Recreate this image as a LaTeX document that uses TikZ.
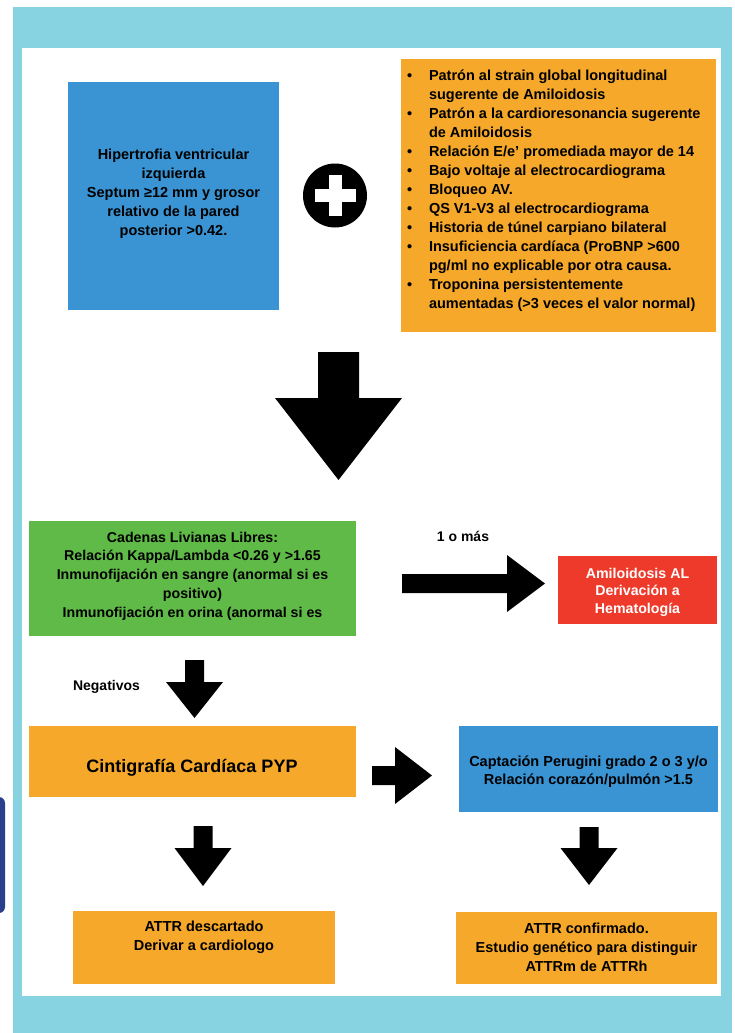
\documentclass[tikz,border=0pt]{standalone}
\usepackage{fontspec}
\setmainfont{Liberation Sans}
\usetikzlibrary{calc}
\definecolor{framecyan}{HTML}{88D3E1}
\definecolor{bblue}{HTML}{3A94D3}
\definecolor{borange}{HTML}{F5A829}
\definecolor{bgreen}{HTML}{60BA47}
\definecolor{bred}{HTML}{EE3A2B}
\definecolor{navyedge}{HTML}{2B3E8E}
% block arrows: start, tip, shaft half width, head half width, head length
\newcommand\blkdown[5]{\fill[black] ($(#1)+(-#3,0)$) -- ($(#1)+(#3,0)$) -- ($(#2)+(#3,-#5)$) -- ($(#2)+(#4,-#5)$) -- (#2) -- ($(#2)+(-#4,-#5)$) -- ($(#2)+(-#3,-#5)$) -- cycle;}
\newcommand\blkright[5]{\fill[black] ($(#1)+(0,-#3)$) -- ($(#2)+(-#5,-#3)$) -- ($(#2)+(-#5,-#4)$) -- (#2) -- ($(#2)+(-#5,#4)$) -- ($(#2)+(-#5,#3)$) -- ($(#1)+(0,#3)$) -- cycle;}
\tikzset{
  box/.style={rectangle, inner sep=0pt, outer sep=0pt},
  txt/.style={inner sep=0pt, outer sep=0pt, align=center, font=\fontsize{14.5}{19}\selectfont\bfseries},
  lbl/.style={inner sep=0pt, outer sep=0pt, font=\fontsize{14}{17}\selectfont\bfseries},
}
\begin{document}
\begin{tikzpicture}[x=1pt,y=-1pt]
\useasboundingbox (0,0) rectangle (734,1033);
\fill[white] (0,0) rectangle (734,1033);
\fill[framecyan] (13,7) rectangle (732,1033);
\fill[white] (22,48) rectangle (721,996);
\fill[navyedge, rounded corners=6pt] (-30,797) rectangle (5,913);

% boxes
\node[box, fill=bblue, minimum width=211pt, minimum height=228pt] (hvi) at (173.5,196) {};
\node[box, fill=borange, minimum width=315pt, minimum height=273pt] (crit) at (558.5,195.5) {};
\node[box, fill=bgreen, minimum width=327pt, minimum height=115pt] (cll) at (192.5,578.5) {};
\node[box, fill=bred, minimum width=159pt, minimum height=68pt] (al) at (637.5,590) {};
\node[box, fill=borange, minimum width=327pt, minimum height=71pt] (pyp) at (192.5,761.5) {};
\node[box, fill=bblue, minimum width=259pt, minimum height=86pt] (capt) at (588.5,769) {};
\node[box, fill=borange, minimum width=262pt, minimum height=73pt] (desc) at (204,947.5) {};
\node[box, fill=borange, minimum width=261pt, minimum height=72pt] (conf) at (586.5,948) {};

% texts
\node[txt] (hviT) at (173.5,194) {Hipertrofia ventricular\\izquierda\\Septum ≥12 mm y grosor\\relativo de la pared\\posterior >0.42.};
\node[txt, align=left, anchor=west] (critT) at (407,190.5) {%
\makebox[22pt][l]{\textbullet}Patrón al strain global longitudinal\\
\hspace*{22pt}sugerente de Amiloidosis\\
\makebox[22pt][l]{\textbullet}Patrón a la cardioresonancia sugerente\\
\hspace*{22pt}de Amiloidosis\\
\makebox[22pt][l]{\textbullet}Relación E/e’ promediada mayor de 14\\
\makebox[22pt][l]{\textbullet}Bajo voltaje al electrocardiograma\\
\makebox[22pt][l]{\textbullet}Bloqueo AV.\\
\makebox[22pt][l]{\textbullet}QS V1-V3 al electrocardiograma\\
\makebox[22pt][l]{\textbullet}Historia de túnel carpiano bilateral\\
\makebox[22pt][l]{\textbullet}Insuficiencia cardíaca (ProBNP >600\\
\hspace*{22pt}pg/ml no explicable por otra causa.\\
\makebox[22pt][l]{\textbullet}Troponina persistentemente\\
\hspace*{22pt}aumentadas (>3 veces el valor normal)};
\node[txt, font=\fontsize{14.2}{18.7}\selectfont\bfseries] (cllT) at (192.5,576) {Cadenas Livianas Libres:\\Relación Kappa/Lambda <0.26 y >1.65\\Inmunofijación en sangre (anormal si es\\positivo)\\Inmunofijación en orina (anormal si es};
\node[txt, text=white, font=\fontsize{14.2}{17.5}\selectfont\bfseries] (alT) at (637.5,592) {Amiloidosis AL\\Derivación a\\Hematología};
\node[txt, font=\fontsize{18}{22}\selectfont\bfseries] (pypT) at (192,768) {Cintigrafía Cardíaca PYP};
\node[txt, font=\fontsize{14.5}{18}\selectfont\bfseries] (captT) at (588.5,771.5) {Captación Perugini grado 2 o 3 y/o\\Relación corazón/pulmón >1.5};
\node[txt] (descT) at (204,937.5) {ATTR descartado\\Derivar a cardiologo};
\node[txt] (confT) at (586.5,947) {ATTR confirmado.\\Estudio genético para distinguir\\ATTRm de ATTRh};
\node[lbl] (mas) at (463,536) {1 o más};
\node[lbl] (neg) at (106.5,687) {Negativos};

% plus sign
\node[circle, fill=black, minimum size=64pt, inner sep=0pt] (plus) at (335,195.5) {};
\fill[white] ($(plus.center)+(-20.5,-6.5)$) rectangle ($(plus.center)+(20.5,6.5)$);
\fill[white] ($(plus.center)+(-6.5,-20.5)$) rectangle ($(plus.center)+(6.5,20.5)$);

% block arrows
\coordinate (a1s) at (338.5,352); \coordinate (a1e) at (338.5,480);
\blkdown{a1s}{a1e}{20.5}{63.5}{82}
\coordinate (a2s) at ($(cll.east)+(46,5)$); \coordinate (a2e) at ($(al.west)+(-13,-6.5)$);
\blkright{a2s}{a2e}{9.5}{28.5}{38}
\coordinate (a3s) at (194.5,660); \coordinate (a3e) at ($(pyp.north)+(2,-8)$);
\blkdown{a3s}{a3e}{9.5}{28.5}{36}
\coordinate (a4s) at ($(pyp.east)+(16,14)$); \coordinate (a4e) at ($(pyp.east)+(76,14)$);
\blkright{a4s}{a4e}{9.5}{28.5}{37}
\coordinate (a5s) at (203,826); \coordinate (a5e) at ($(desc.north)+(-1,-25)$);
\blkdown{a5s}{a5e}{9.5}{28.5}{38}
\coordinate (a6s) at (589,827); \coordinate (a6e) at ($(capt.south)+(0.5,73)$);
\blkdown{a6s}{a6e}{9.5}{28.5}{37}
\end{tikzpicture}
\end{document}
